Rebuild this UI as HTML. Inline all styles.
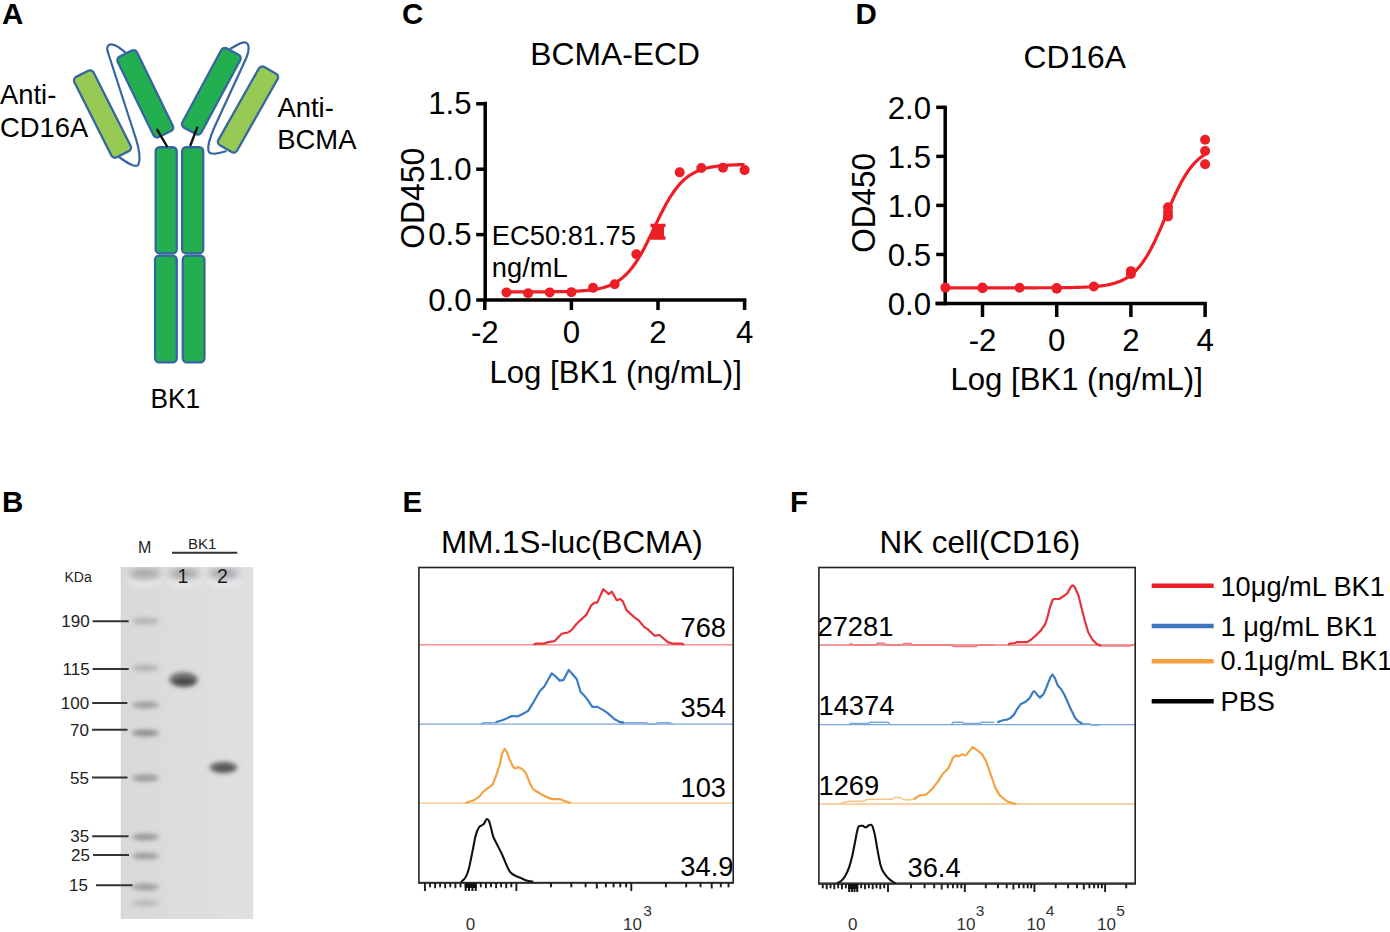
<!DOCTYPE html>
<html><head><meta charset="utf-8"><title>Figure</title>
<style>
html,body{margin:0;padding:0;background:#fff;width:1390px;height:932px;overflow:hidden}
svg{display:block}
text{font-family:"Liberation Sans", sans-serif}
</style></head><body>
<svg width="1390" height="932" viewBox="0 0 1390 932">
<rect width="1390" height="932" fill="#fff"/>
<text x="2" y="24" font-size="29.5" text-anchor="start" font-weight="bold" fill="#000" >A</text>
<path d="M129,56 C122,49 114,43.5 110,44.5 C106,46 107,50 108.5,54 L136,139 C138.5,147 141,158 138.5,164.5 C136,169 126,162 119,157" fill="none" stroke="#3566a2" stroke-width="2.2"/>
<path d="M230,49 C236,45.5 242,41.5 245.5,42.5 C250,44 249,51 246.5,57.5 L214.5,127 C211,135 207,145 208.5,151 C210,156 220,153 226.5,151" fill="none" stroke="#3566a2" stroke-width="2.2"/>
<rect x="91.75" y="69.0" width="21.5" height="90" rx="4" ry="4" transform="rotate(-26.8 102.5 114)" fill="#97ca54" stroke="#3566a2" stroke-width="2.3"/>
<rect x="134.55" y="49.05" width="21.5" height="89.5" rx="4" ry="4" transform="rotate(-26 145.3 93.8)" fill="#23af50" stroke="#3566a2" stroke-width="2.3"/>
<rect x="200.55" y="46.2" width="21.5" height="90" rx="4" ry="4" transform="rotate(28.3 211.3 91.2)" fill="#23af50" stroke="#3566a2" stroke-width="2.3"/>
<rect x="237.25" y="64.5" width="21.5" height="90" rx="4" ry="4" transform="rotate(29.5 248 109.5)" fill="#97ca54" stroke="#3566a2" stroke-width="2.3"/>
<rect x="155.65" y="147.25" width="21.1" height="106.2" rx="4" fill="#23af50" stroke="#3566a2" stroke-width="2.3"/>
<rect x="155.05" y="255.65" width="21.7" height="106.7" rx="4" fill="#23af50" stroke="#3566a2" stroke-width="2.3"/>
<rect x="182.15" y="147.25" width="21.1" height="106.2" rx="4" fill="#23af50" stroke="#3566a2" stroke-width="2.3"/>
<rect x="182.75" y="255.65" width="21.7" height="106.7" rx="4" fill="#23af50" stroke="#3566a2" stroke-width="2.3"/>
<line x1="156.7" y1="128.8" x2="167.4" y2="147" stroke="#111" stroke-width="2.4"/>
<line x1="197.6" y1="126.6" x2="190.1" y2="146" stroke="#111" stroke-width="2.4"/>
<text x="0" y="103.5" font-size="27.4" text-anchor="start" font-weight="normal" fill="#000" >Anti-</text>
<text x="0" y="137" font-size="27.4" text-anchor="start" font-weight="normal" fill="#000" >CD16A</text>
<text x="277.5" y="116.5" font-size="27.4" text-anchor="start" font-weight="normal" fill="#000" >Anti-</text>
<text x="277.3" y="148.8" font-size="27.4" text-anchor="start" font-weight="normal" fill="#000" >BCMA</text>
<text transform="translate(150.5 408) scale(1 1.06)" font-size="26.3" text-anchor="start" font-weight="normal" fill="#000" >BK1</text>
<text x="2" y="512" font-size="29.5" text-anchor="start" font-weight="bold" fill="#000" >B</text>
<defs><linearGradient id="gelg" x1="0" x2="1" y1="0" y2="0"><stop offset="0" stop-color="#d6d6d7"/><stop offset="0.04" stop-color="#d9d9db"/><stop offset="0.4" stop-color="#dcdcde"/><stop offset="1" stop-color="#e0e0e2"/></linearGradient><filter id="blur2" x="-50%" y="-50%" width="200%" height="200%"><feGaussianBlur stdDeviation="2"/></filter><filter id="blur3" x="-50%" y="-50%" width="200%" height="200%"><feGaussianBlur stdDeviation="3"/></filter><clipPath id="gelclip"><rect x="120.5" y="567" width="133" height="352"/></clipPath></defs>
<g clip-path="url(#gelclip)">
<rect x="120.5" y="567" width="133" height="352" fill="url(#gelg)"/>
<g filter="url(#blur3)">
<ellipse cx="145" cy="573.5" rx="15" ry="5" fill="#a8a8aa"/>
<ellipse cx="184" cy="573.5" rx="15" ry="5" fill="#a8a8aa"/>
<ellipse cx="224" cy="573.5" rx="15" ry="5" fill="#a8a8aa"/>
</g>
<g filter="url(#blur2)">
<path d="M128,580 Q145,588 162,580 L162,582.5 Q145,590.5 128,582.5 Z" fill="#f0f0f0"/>
<path d="M167,580 Q184,588 201,580 L201,582.5 Q184,590.5 167,582.5 Z" fill="#f0f0f0"/>
<path d="M207,580 Q224,588 241,580 L241,582.5 Q224,590.5 207,582.5 Z" fill="#f0f0f0"/>
</g>
<g filter="url(#blur2)">
<ellipse cx="145.5" cy="621" rx="13.5" ry="3.5" fill="#707070" opacity="0.35"/>
<ellipse cx="145.5" cy="668" rx="13.5" ry="3.5" fill="#707070" opacity="0.35"/>
<ellipse cx="145.5" cy="705" rx="13.5" ry="3.5" fill="#707070" opacity="0.55"/>
<ellipse cx="145.5" cy="733" rx="13.5" ry="3.5" fill="#707070" opacity="0.7"/>
<ellipse cx="145.5" cy="778" rx="13.5" ry="3.5" fill="#707070" opacity="0.6"/>
<ellipse cx="145.5" cy="837" rx="13.5" ry="3.5" fill="#707070" opacity="0.6"/>
<ellipse cx="145.5" cy="856" rx="13.5" ry="3.5" fill="#707070" opacity="0.55"/>
<ellipse cx="145.5" cy="887" rx="13.5" ry="3.5" fill="#707070" opacity="0.55"/>
<ellipse cx="145.5" cy="903" rx="13.5" ry="3.5" fill="#707070" opacity="0.3"/>
</g>
<g filter="url(#blur2)">
<ellipse cx="183.5" cy="679.5" rx="14.5" ry="7.5" fill="#777"/>
<ellipse cx="184.5" cy="682" rx="11.5" ry="4.5" fill="#4c4c4c"/>
<ellipse cx="223.5" cy="767.5" rx="14" ry="6" fill="#747474"/>
<ellipse cx="224" cy="768" rx="10.5" ry="3.5" fill="#555"/>
</g>
</g>
<text x="138" y="553.2" font-size="16" text-anchor="start" font-weight="normal" fill="#222" >M</text>
<text x="188" y="548.5" font-size="15" text-anchor="start" font-weight="normal" fill="#222" >BK1</text>
<line x1="172" y1="552.7" x2="237.3" y2="552.7" stroke="#333" stroke-width="2"/>
<text x="64.5" y="582" font-size="14" text-anchor="start" font-weight="normal" fill="#222" >KDa</text>
<text x="177.5" y="583" font-size="19.5" text-anchor="start" font-weight="normal" fill="#1a1a1a" >1</text>
<text x="217" y="583" font-size="19.5" text-anchor="start" font-weight="normal" fill="#1a1a1a" >2</text>
<text x="89.6" y="627.2" font-size="17" text-anchor="end" font-weight="normal" fill="#222" >190</text>
<line x1="92.6" y1="621.2" x2="128.7" y2="621.2" stroke="#333" stroke-width="2"/>
<text x="89.6" y="675" font-size="17" text-anchor="end" font-weight="normal" fill="#222" >115</text>
<line x1="92.6" y1="669" x2="128.7" y2="669" stroke="#333" stroke-width="2"/>
<text x="89.2" y="709" font-size="17" text-anchor="end" font-weight="normal" fill="#222" >100</text>
<line x1="92.2" y1="703" x2="127.3" y2="703" stroke="#333" stroke-width="2"/>
<text x="89" y="735.7" font-size="17" text-anchor="end" font-weight="normal" fill="#222" >70</text>
<line x1="92" y1="729.7" x2="127.5" y2="729.7" stroke="#333" stroke-width="2"/>
<text x="89" y="783.5" font-size="17" text-anchor="end" font-weight="normal" fill="#222" >55</text>
<line x1="92" y1="777.5" x2="127.5" y2="777.5" stroke="#333" stroke-width="2"/>
<text x="89.2" y="842.2" font-size="17" text-anchor="end" font-weight="normal" fill="#222" >35</text>
<line x1="92.2" y1="836.2" x2="128.6" y2="836.2" stroke="#333" stroke-width="2"/>
<text x="90" y="861" font-size="17" text-anchor="end" font-weight="normal" fill="#222" >25</text>
<line x1="93" y1="855" x2="129" y2="855" stroke="#333" stroke-width="2"/>
<text x="88" y="891.3" font-size="17" text-anchor="end" font-weight="normal" fill="#222" >15</text>
<line x1="96" y1="885.3" x2="132.5" y2="885.3" stroke="#333" stroke-width="2"/>
<text x="402" y="24" font-size="29.5" text-anchor="start" font-weight="bold" fill="#000" >C</text>
<text x="530.3" y="65" font-size="31.8" text-anchor="start" font-weight="normal" fill="#000" >BCMA-ECD</text>
<line x1="485.2" y1="101.75" x2="485.2" y2="301.75" stroke="#000" stroke-width="3.5"/>
<line x1="484" y1="300" x2="746.3499999999999" y2="300" stroke="#000" stroke-width="3.5"/>
<line x1="476.2" y1="300.0" x2="485.2" y2="300.0" stroke="#000" stroke-width="3.5"/>
<text x="471.5" y="310.6" font-size="31.2" text-anchor="end" font-weight="normal" fill="#000" >0.0</text>
<line x1="476.2" y1="234.6" x2="485.2" y2="234.6" stroke="#000" stroke-width="3.5"/>
<text x="471.5" y="245.2" font-size="31.2" text-anchor="end" font-weight="normal" fill="#000" >0.5</text>
<line x1="476.2" y1="169.2" x2="485.2" y2="169.2" stroke="#000" stroke-width="3.5"/>
<text x="471.5" y="179.79999999999998" font-size="31.2" text-anchor="end" font-weight="normal" fill="#000" >1.0</text>
<line x1="476.2" y1="103.79999999999998" x2="485.2" y2="103.79999999999998" stroke="#000" stroke-width="3.5"/>
<text x="471.5" y="114.39999999999998" font-size="31.2" text-anchor="end" font-weight="normal" fill="#000" >1.5</text>
<line x1="484.79999999999995" y1="300" x2="484.79999999999995" y2="310" stroke="#000" stroke-width="3.5"/>
<text x="484.79999999999995" y="343.2" font-size="31.2" text-anchor="middle" font-weight="normal" fill="#000" >-2</text>
<line x1="571.4" y1="300" x2="571.4" y2="310" stroke="#000" stroke-width="3.5"/>
<text x="571.4" y="343.2" font-size="31.2" text-anchor="middle" font-weight="normal" fill="#000" >0</text>
<line x1="658.0" y1="300" x2="658.0" y2="310" stroke="#000" stroke-width="3.5"/>
<text x="658.0" y="343.2" font-size="31.2" text-anchor="middle" font-weight="normal" fill="#000" >2</text>
<line x1="744.5999999999999" y1="300" x2="744.5999999999999" y2="310" stroke="#000" stroke-width="3.5"/>
<text x="744.5999999999999" y="343.2" font-size="31.2" text-anchor="middle" font-weight="normal" fill="#000" >4</text>
<text x="489.5" y="383.1" font-size="31.1" text-anchor="start" font-weight="normal" fill="#000" >Log [BK1 (ng/mL)]</text>
<text transform="translate(424.0 198.2) rotate(-90) scale(1 1.07)" x="0" y="0" font-size="31.9" text-anchor="middle">OD450</text>
<polyline points="506.45,291.88 508.43,291.88 510.42,291.88 512.40,291.88 514.39,291.88 516.37,291.88 518.36,291.87 520.34,291.87 522.33,291.87 524.31,291.87 526.30,291.86 528.28,291.86 530.26,291.85 532.25,291.85 534.23,291.84 536.22,291.84 538.20,291.83 540.19,291.82 542.17,291.81 544.16,291.80 546.14,291.79 548.13,291.77 550.11,291.76 552.10,291.74 554.08,291.72 556.06,291.69 558.05,291.66 560.03,291.63 562.02,291.60 564.00,291.56 565.99,291.51 567.97,291.46 569.96,291.40 571.94,291.33 573.93,291.25 575.91,291.16 577.89,291.06 579.88,290.94 581.86,290.81 583.85,290.66 585.83,290.49 587.82,290.30 589.80,290.08 591.79,289.83 593.77,289.54 595.76,289.22 597.74,288.86 599.73,288.45 601.71,287.98 603.69,287.45 605.68,286.86 607.66,286.18 609.65,285.43 611.63,284.58 613.62,283.62 615.60,282.55 617.59,281.35 619.57,280.01 621.56,278.53 623.54,276.88 625.52,275.05 627.51,273.05 629.49,270.85 631.48,268.45 633.46,265.84 635.45,263.02 637.43,259.99 639.42,256.76 641.40,253.33 643.39,249.72 645.37,245.95 647.36,242.03 649.34,238.00 651.32,233.89 653.31,229.73 655.29,225.56 657.28,221.40 659.26,217.30 661.25,213.30 663.23,209.41 665.22,205.66 667.20,202.09 669.19,198.70 671.17,195.51 673.15,192.52 675.14,189.74 677.12,187.18 679.11,184.82 681.09,182.66 683.08,180.69 685.06,178.90 687.05,177.28 689.03,175.83 691.02,174.52 693.00,173.35 694.99,172.30 696.97,171.37 698.95,170.53 700.94,169.79 702.92,169.14 704.91,168.56 706.89,168.04 708.88,167.59 710.86,167.18 712.85,166.83 714.83,166.52 716.82,166.24 718.80,166.00 720.78,165.78 722.77,165.59 724.75,165.43 726.74,165.28 728.72,165.15 730.71,165.04 732.69,164.94 734.68,164.86 736.66,164.78 738.65,164.71 740.63,164.65 742.62,164.60 744.60,164.56" fill="none" stroke="#ec1f27" stroke-width="3.2" stroke-linejoin="round"/>
<circle cx="506.45" cy="292.41" r="5" fill="#ec1f27"/>
<circle cx="528.10" cy="293.33" r="5" fill="#ec1f27"/>
<circle cx="549.75" cy="292.41" r="5" fill="#ec1f27"/>
<circle cx="571.40" cy="292.15" r="5" fill="#ec1f27"/>
<circle cx="593.05" cy="287.84" r="5" fill="#ec1f27"/>
<circle cx="614.70" cy="284.17" r="5" fill="#ec1f27"/>
<circle cx="636.35" cy="254.22" r="5" fill="#ec1f27"/>
<circle cx="658.00" cy="231.98" r="5" fill="#ec1f27"/>
<circle cx="679.65" cy="172.34" r="5" fill="#ec1f27"/>
<circle cx="701.30" cy="168.02" r="5" fill="#ec1f27"/>
<circle cx="722.95" cy="167.63" r="5" fill="#ec1f27"/>
<circle cx="744.60" cy="170.12" r="5" fill="#ec1f27"/>
<path d="M650.5,225.5 H665.5 M650.5,238 H665.5 M658.0,225.5 V238" stroke="#ec1f27" stroke-width="3.5" fill="none"/>
<rect x="652.0" y="225.5" width="12" height="12.5" fill="#ec1f27"/>
<text x="491.8" y="245.3" font-size="27.3" text-anchor="start" font-weight="normal" fill="#000" >EC50:81.75</text>
<text x="491.8" y="276.6" font-size="27.3" text-anchor="start" font-weight="normal" fill="#000" >ng/mL</text>
<text x="855.5" y="24" font-size="29.5" text-anchor="start" font-weight="bold" fill="#000" >D</text>
<text x="1023.5" y="68.3" font-size="31.8" text-anchor="start" font-weight="normal" fill="#000" >CD16A</text>
<line x1="945.2" y1="105.75" x2="945.2" y2="305.25" stroke="#000" stroke-width="3.5"/>
<line x1="935.4" y1="303.5" x2="1206.8500000000001" y2="303.5" stroke="#000" stroke-width="3.5"/>
<line x1="936.2" y1="303.5" x2="945.2" y2="303.5" stroke="#000" stroke-width="3.5"/>
<text x="931.0" y="315.3" font-size="31.2" text-anchor="end" font-weight="normal" fill="#000" >0.0</text>
<line x1="936.2" y1="254.45" x2="945.2" y2="254.45" stroke="#000" stroke-width="3.5"/>
<text x="931.0" y="266.25" font-size="31.2" text-anchor="end" font-weight="normal" fill="#000" >0.5</text>
<line x1="936.2" y1="205.4" x2="945.2" y2="205.4" stroke="#000" stroke-width="3.5"/>
<text x="931.0" y="217.20000000000002" font-size="31.2" text-anchor="end" font-weight="normal" fill="#000" >1.0</text>
<line x1="936.2" y1="156.35000000000002" x2="945.2" y2="156.35000000000002" stroke="#000" stroke-width="3.5"/>
<text x="931.0" y="168.15000000000003" font-size="31.2" text-anchor="end" font-weight="normal" fill="#000" >1.5</text>
<line x1="936.2" y1="107.30000000000001" x2="945.2" y2="107.30000000000001" stroke="#000" stroke-width="3.5"/>
<text x="931.0" y="119.10000000000001" font-size="31.2" text-anchor="end" font-weight="normal" fill="#000" >2.0</text>
<line x1="982.5" y1="303.5" x2="982.5" y2="317.0" stroke="#000" stroke-width="3.5"/>
<text x="982.5" y="351" font-size="31.2" text-anchor="middle" font-weight="normal" fill="#000" >-2</text>
<line x1="1056.7" y1="303.5" x2="1056.7" y2="317.0" stroke="#000" stroke-width="3.5"/>
<text x="1056.7" y="351" font-size="31.2" text-anchor="middle" font-weight="normal" fill="#000" >0</text>
<line x1="1130.9" y1="303.5" x2="1130.9" y2="317.0" stroke="#000" stroke-width="3.5"/>
<text x="1130.9" y="351" font-size="31.2" text-anchor="middle" font-weight="normal" fill="#000" >2</text>
<line x1="1205.1000000000001" y1="303.5" x2="1205.1000000000001" y2="317.0" stroke="#000" stroke-width="3.5"/>
<text x="1205.1000000000001" y="351" font-size="31.2" text-anchor="middle" font-weight="normal" fill="#000" >4</text>
<text x="950.5" y="390.4" font-size="31.1" text-anchor="start" font-weight="normal" fill="#000" >Log [BK1 (ng/mL)]</text>
<text transform="translate(875.2 202.8) rotate(-90) scale(1 1.07)" x="0" y="0" font-size="31.5" text-anchor="middle">OD450</text>
<polyline points="945.40,287.80 947.56,287.80 949.73,287.80 951.89,287.80 954.06,287.80 956.22,287.80 958.38,287.80 960.55,287.80 962.71,287.80 964.88,287.80 967.04,287.80 969.21,287.80 971.37,287.80 973.53,287.80 975.70,287.80 977.86,287.80 980.03,287.80 982.19,287.80 984.36,287.80 986.52,287.80 988.68,287.80 990.85,287.80 993.01,287.80 995.18,287.80 997.34,287.80 999.50,287.80 1001.67,287.80 1003.83,287.80 1006.00,287.80 1008.16,287.80 1010.33,287.80 1012.49,287.80 1014.65,287.80 1016.82,287.80 1018.98,287.80 1021.15,287.79 1023.31,287.79 1025.47,287.79 1027.64,287.79 1029.80,287.79 1031.97,287.78 1034.13,287.78 1036.30,287.78 1038.46,287.77 1040.62,287.77 1042.79,287.76 1044.95,287.76 1047.12,287.75 1049.28,287.74 1051.44,287.73 1053.61,287.72 1055.77,287.71 1057.94,287.69 1060.10,287.68 1062.27,287.66 1064.43,287.63 1066.59,287.61 1068.76,287.58 1070.92,287.54 1073.09,287.50 1075.25,287.45 1077.41,287.40 1079.58,287.34 1081.74,287.27 1083.91,287.18 1086.07,287.09 1088.24,286.98 1090.40,286.85 1092.56,286.70 1094.73,286.54 1096.89,286.34 1099.06,286.12 1101.22,285.86 1103.38,285.57 1105.55,285.23 1107.71,284.84 1109.88,284.39 1112.04,283.88 1114.20,283.29 1116.37,282.61 1118.53,281.85 1120.70,280.97 1122.86,279.97 1125.03,278.84 1127.19,277.55 1129.35,276.09 1131.52,274.45 1133.68,272.61 1135.85,270.54 1138.01,268.24 1140.17,265.68 1142.34,262.86 1144.50,259.76 1146.67,256.37 1148.83,252.70 1151.00,248.76 1153.16,244.55 1155.32,240.09 1157.49,235.41 1159.65,230.55 1161.82,225.55 1163.98,220.45 1166.14,215.31 1168.31,210.18 1170.47,205.11 1172.64,200.15 1174.80,195.35 1176.97,190.74 1179.13,186.36 1181.29,182.24 1183.46,178.39 1185.62,174.82 1187.79,171.53 1189.95,168.53 1192.12,165.80 1194.28,163.33 1196.44,161.11 1198.61,159.12 1200.77,157.35 1202.94,155.77 1205.10,154.37" fill="none" stroke="#ec1f27" stroke-width="3.2" stroke-linejoin="round"/>
<circle cx="945.40" cy="287.61" r="5" fill="#ec1f27"/>
<circle cx="982.50" cy="287.61" r="5" fill="#ec1f27"/>
<circle cx="982.50" cy="288.29" r="5" fill="#ec1f27"/>
<circle cx="1019.60" cy="287.80" r="5" fill="#ec1f27"/>
<circle cx="1056.70" cy="288.00" r="5" fill="#ec1f27"/>
<circle cx="1056.70" cy="288.79" r="5" fill="#ec1f27"/>
<circle cx="1093.80" cy="286.43" r="5" fill="#ec1f27"/>
<circle cx="1130.90" cy="274.07" r="5" fill="#ec1f27"/>
<circle cx="1130.90" cy="271.13" r="5" fill="#ec1f27"/>
<circle cx="1168.00" cy="207.36" r="5" fill="#ec1f27"/>
<circle cx="1168.00" cy="212.27" r="5" fill="#ec1f27"/>
<circle cx="1168.00" cy="216.39" r="5" fill="#ec1f27"/>
<circle cx="1205.10" cy="139.67" r="5" fill="#ec1f27"/>
<circle cx="1205.10" cy="151.05" r="5" fill="#ec1f27"/>
<circle cx="1205.10" cy="164.20" r="5" fill="#ec1f27"/>
<line x1="945.2" y1="303.5" x2="945.2" y2="303.5" />
<text x="402.5" y="512" font-size="29.5" text-anchor="start" font-weight="bold" fill="#000" >E</text>
<text x="441" y="553.2" font-size="31.4" text-anchor="start" font-weight="normal" fill="#000" >MM.1S-luc(BCMA)</text>
<line x1="418.9" y1="644.8" x2="733.2" y2="644.8" stroke="#f07a80" stroke-width="1.3"/>
<polyline points="533.6,644.8 536.0,643.6 544.6,643.6 547.0,642.4 554.4,641.2 561.7,633.8 564.1,633.2 567.8,632.6 571.5,630.1 576.4,624.0 586.2,614.9 591.0,605.7 594.7,602.6 597.2,602.6 603.3,589.2 608.8,594.1 611.8,591.6 616.7,600.2 620.4,599.0 622.8,601.4 626.5,610.0 630.2,613.6 635.1,617.9 638.7,620.4 644.3,627.1 647.3,628.9 654.6,635.7 659.5,635.0 668.1,642.4 673.0,643.6 681.6,643.6 684.0,644.8" fill="none" stroke="#e5333d" stroke-width="2.2" stroke-linejoin="round"/>
<line x1="418.9" y1="724.2" x2="733.2" y2="724.2" stroke="#7aa6db" stroke-width="1.3"/>
<polyline points="480.9,724.2 483.8,722.7 495.6,722.7" fill="none" stroke="#7aa6db" stroke-width="1.5" stroke-linejoin="round"/>
<polyline points="624.0,722.7 646.1,722.7 649.0,724.2 654.9,724.2 657.9,722.7 669.7,722.7 672.6,724.2" fill="none" stroke="#7aa6db" stroke-width="1.5" stroke-linejoin="round"/>
<polyline points="495.6,722.7 497.1,721.7 501.5,720.5 506.0,718.7 511.9,716.0 517.8,716.3 522.2,714.3 528.1,710.9 534.0,701.3 539.9,691.0 544.3,686.5 551.7,673.3 555.4,676.2 559.8,680.6 563.5,679.9 568.7,670.0 572.3,674.0 576.8,679.2 580.5,691.7 584.1,695.4 587.1,699.1 592.3,706.9 597.4,706.9 603.3,710.1 607.7,713.1 614.4,719.0 619.5,721.9 624.0,722.7" fill="none" stroke="#3b7bc3" stroke-width="2.2" stroke-linejoin="round"/>
<line x1="418.9" y1="803.1" x2="733.2" y2="803.1" stroke="#f7c48a" stroke-width="1.3"/>
<polyline points="465.3,803.1 469.0,801.7 473.7,800.3 479.3,796.6 483.1,791.9 485.9,789.6 492.4,784.9 496.2,775.5 499.9,764.3 502.2,753.1 504.6,748.9 506.9,752.2 509.3,758.7 513.0,766.7 514.9,768.5 518.6,767.1 523.3,769.9 526.1,773.7 529.8,783.0 532.6,788.6 536.4,791.3 541.1,794.3 546.7,797.1 552.3,799.1 559.8,799.1 565.4,801.3 571.0,803.1" fill="none" stroke="#f2a344" stroke-width="2.2" stroke-linejoin="round"/>
<line x1="418.9" y1="882.5" x2="733.2" y2="882.5" stroke="#555" stroke-width="1.3"/>
<path d="M461.0,882.1 C461.7,881.4 464.0,879.9 465.3,877.8 C466.6,875.7 467.6,873.4 468.7,869.3 C469.8,865.1 471.0,858.5 472.2,852.9 C473.4,847.3 474.5,840.1 475.6,835.8 C476.7,831.5 477.9,829.0 479.0,827.2 C480.1,825.4 481.6,825.6 482.5,825.0 C483.4,824.4 483.5,824.3 484.2,823.3 C484.9,822.3 485.9,819.2 486.8,819.0 C487.7,818.8 488.5,819.9 489.4,822.0 C490.2,824.1 491.2,828.9 491.9,831.5 C492.6,834.1 492.6,835.1 493.6,837.5 C494.6,839.9 496.5,843.2 497.9,846.1 C499.3,849.0 500.8,851.6 502.2,854.7 C503.6,857.9 505.2,862.1 506.5,865.0 C507.8,867.9 508.6,870.0 510.0,871.8 C511.4,873.6 513.4,874.7 515.1,875.7 C516.8,876.7 518.4,877.0 520.3,877.8 C522.2,878.6 524.1,879.7 526.3,880.4 C528.4,881.1 532.1,881.6 533.2,881.8" fill="none" stroke="#111" stroke-width="2.1" stroke-linejoin="round"/>
<rect x="418.9" y="567.5" width="314.30000000000007" height="315.5" fill="none" stroke="#222" stroke-width="1.6"/>
<text x="726" y="637.2" font-size="27.3" text-anchor="end" font-weight="normal" fill="#000" >768</text>
<text x="726" y="716.9" font-size="27.3" text-anchor="end" font-weight="normal" fill="#000" >354</text>
<text x="726" y="796.5" font-size="27.3" text-anchor="end" font-weight="normal" fill="#000" >103</text>
<text x="733.5" y="876.2" font-size="27.3" text-anchor="end" font-weight="normal" fill="#000" >34.9</text>
<line x1="424.9" y1="883" x2="424.9" y2="891.0" stroke="#1a1a1a" stroke-width="1.9"/>
<line x1="516.4" y1="883" x2="516.4" y2="891.0" stroke="#1a1a1a" stroke-width="1.9"/>
<line x1="631.3" y1="883" x2="631.3" y2="891.0" stroke="#1a1a1a" stroke-width="1.9"/>
<line x1="430.0" y1="883" x2="430.0" y2="887.3" stroke="#1a1a1a" stroke-width="1.9"/>
<line x1="435.1" y1="883" x2="435.1" y2="888.2" stroke="#1a1a1a" stroke-width="1.9"/>
<line x1="440.1" y1="883" x2="440.1" y2="887.3" stroke="#1a1a1a" stroke-width="1.9"/>
<line x1="445.2" y1="883" x2="445.2" y2="888.2" stroke="#1a1a1a" stroke-width="1.9"/>
<line x1="450.3" y1="883" x2="450.3" y2="887.3" stroke="#1a1a1a" stroke-width="1.9"/>
<line x1="455.4" y1="883" x2="455.4" y2="888.2" stroke="#1a1a1a" stroke-width="1.9"/>
<line x1="460.5" y1="883" x2="460.5" y2="887.3" stroke="#1a1a1a" stroke-width="1.9"/>
<line x1="480.8" y1="883" x2="480.8" y2="887.3" stroke="#1a1a1a" stroke-width="1.9"/>
<line x1="485.9" y1="883" x2="485.9" y2="888.2" stroke="#1a1a1a" stroke-width="1.9"/>
<line x1="491.0" y1="883" x2="491.0" y2="887.3" stroke="#1a1a1a" stroke-width="1.9"/>
<line x1="496.1" y1="883" x2="496.1" y2="888.2" stroke="#1a1a1a" stroke-width="1.9"/>
<line x1="501.1" y1="883" x2="501.1" y2="887.3" stroke="#1a1a1a" stroke-width="1.9"/>
<line x1="506.2" y1="883" x2="506.2" y2="888.2" stroke="#1a1a1a" stroke-width="1.9"/>
<line x1="511.3" y1="883" x2="511.3" y2="887.3" stroke="#1a1a1a" stroke-width="1.9"/>
<line x1="551.0" y1="883" x2="551.0" y2="887.3" stroke="#1a1a1a" stroke-width="1.9"/>
<line x1="571.3" y1="883" x2="571.3" y2="887.3" stroke="#1a1a1a" stroke-width="1.9"/>
<line x1="585.6" y1="883" x2="585.6" y2="887.3" stroke="#1a1a1a" stroke-width="1.9"/>
<line x1="596.8" y1="883" x2="596.8" y2="888.5" stroke="#1a1a1a" stroke-width="1.9"/>
<line x1="605.9" y1="883" x2="605.9" y2="887.3" stroke="#1a1a1a" stroke-width="1.9"/>
<line x1="613.6" y1="883" x2="613.6" y2="887.3" stroke="#1a1a1a" stroke-width="1.9"/>
<line x1="620.3" y1="883" x2="620.3" y2="887.3" stroke="#1a1a1a" stroke-width="1.9"/>
<line x1="626.1" y1="883" x2="626.1" y2="887.3" stroke="#1a1a1a" stroke-width="1.9"/>
<line x1="665.9" y1="883" x2="665.9" y2="887.3" stroke="#1a1a1a" stroke-width="1.9"/>
<line x1="686.2" y1="883" x2="686.2" y2="887.3" stroke="#1a1a1a" stroke-width="1.9"/>
<line x1="700.5" y1="883" x2="700.5" y2="887.3" stroke="#1a1a1a" stroke-width="1.9"/>
<line x1="711.7" y1="883" x2="711.7" y2="888.5" stroke="#1a1a1a" stroke-width="1.9"/>
<line x1="720.8" y1="883" x2="720.8" y2="887.3" stroke="#1a1a1a" stroke-width="1.9"/>
<line x1="728.5" y1="883" x2="728.5" y2="887.3" stroke="#1a1a1a" stroke-width="1.9"/>
<rect x="464.7" y="883" width="12.0" height="5" fill="#111"/>
<line x1="465.7" y1="883" x2="465.7" y2="891" stroke="#111" stroke-width="2"/>
<line x1="469.0" y1="883" x2="469.0" y2="891" stroke="#111" stroke-width="2"/>
<line x1="472.4" y1="883" x2="472.4" y2="891" stroke="#111" stroke-width="2"/>
<line x1="475.7" y1="883" x2="475.7" y2="891" stroke="#111" stroke-width="2"/>
<text x="470.5" y="929.5" font-size="17" text-anchor="middle" font-weight="normal" fill="#333" >0</text>
<text x="632.5" y="929.5" font-size="17" text-anchor="middle" font-weight="normal" fill="#333" >10</text>
<text x="643.2" y="915.5" font-size="15.5" text-anchor="start" font-weight="normal" fill="#333" >3</text>
<text x="790" y="512" font-size="29.5" text-anchor="start" font-weight="bold" fill="#000" >F</text>
<text x="879.5" y="553.2" font-size="31.4" text-anchor="start" font-weight="normal" fill="#000" >NK cell(CD16)</text>
<line x1="818.9" y1="645" x2="1135.2" y2="645" stroke="#f07a80" stroke-width="1.3"/>
<polyline points="849.0,645.0 850.7,643.6 854.3,645.0 875.5,645.0 877.3,643.2 884.4,643.2 886.1,645.0 902.1,645.0 903.8,643.6 910.9,643.6 912.7,645.0 951.6,645.0 953.4,646.4 976.4,646.4 978.2,645.0 994.1,645.0" fill="none" stroke="#f07a80" stroke-width="1.5" stroke-linejoin="round"/>
<polyline points="1101.1,646.0 1130.3,646.0 1132.4,644.9 1134.6,644.6" fill="none" stroke="#f07a80" stroke-width="1.5" stroke-linejoin="round"/>
<polyline points="1008.3,644.6 1010.5,643.5 1014.8,643.0 1017.0,642.1 1027.2,642.1 1031.0,639.7 1035.3,636.0 1040.7,630.6 1045.0,624.6 1047.2,618.2 1049.9,607.4 1052.6,599.8 1054.7,599.0 1059.1,599.0 1064.5,595.5 1067.7,592.8 1070.4,587.4 1072.6,585.3 1074.7,586.9 1078.5,595.5 1081.7,608.5 1085.0,621.4 1088.2,632.2 1092.5,639.7 1096.8,644.1 1101.1,646.0" fill="none" stroke="#e5333d" stroke-width="2.2" stroke-linejoin="round"/>
<line x1="818.9" y1="724.7" x2="1135.2" y2="724.7" stroke="#7aa6db" stroke-width="1.3"/>
<polyline points="849.0,724.7 850.7,723.6 868.4,723.6 870.2,722.2 887.9,722.2 889.7,723.6" fill="none" stroke="#7aa6db" stroke-width="1.5" stroke-linejoin="round"/>
<polyline points="951.6,723.6 953.4,722.2 962.3,722.2 964.0,723.6 980.0,723.6 981.7,722.2 994.1,722.2" fill="none" stroke="#7aa6db" stroke-width="1.5" stroke-linejoin="round"/>
<polyline points="1082.6,723.7 1089.2,723.7 1091.7,724.9 1100.0,724.9" fill="none" stroke="#7aa6db" stroke-width="1.5" stroke-linejoin="round"/>
<polyline points="997.4,722.5 999.9,721.2 1004.0,720.0 1007.3,719.6 1010.6,717.9 1014.0,714.6 1017.3,708.8 1020.6,704.3 1025.5,701.8 1029.7,698.1 1033.0,691.9 1034.6,691.4 1037.1,694.7 1040.0,697.6 1043.7,693.9 1047.1,685.6 1050.4,677.4 1052.4,674.5 1054.9,678.2 1057.8,685.6 1061.1,689.0 1064.4,694.7 1067.7,702.2 1071.0,709.6 1075.2,717.9 1078.5,721.6 1082.6,723.7" fill="none" stroke="#3b7bc3" stroke-width="2.2" stroke-linejoin="round"/>
<line x1="818.9" y1="804" x2="1135.2" y2="804" stroke="#f7c48a" stroke-width="1.3"/>
<polyline points="839.6,804.2 842.7,802.7 848.7,801.2 862.3,801.2 868.3,799.2 892.5,799.2 895.5,797.2 900.1,797.7 903.1,799.2 909.1,800.0 913.7,799.2" fill="none" stroke="#f7c48a" stroke-width="1.5" stroke-linejoin="round"/>
<polyline points="913.7,799.2 919.7,795.4 925.8,794.7 931.8,789.4 937.8,781.8 942.4,774.3 948.4,768.2 953.0,757.7 956.0,755.4 959.0,756.2 962.0,754.3 965.8,755.4 969.6,750.9 972.6,747.1 977.1,750.1 982.4,754.6 986.2,761.4 990.7,774.3 995.3,787.9 999.8,795.4 1007.3,801.5 1016.4,804.2" fill="none" stroke="#f2a344" stroke-width="2.2" stroke-linejoin="round"/>
<line x1="818.9" y1="883" x2="1135.2" y2="883" stroke="#555" stroke-width="1.3"/>
<path d="M837.1,883.4 C837.8,883.0 839.8,882.2 841.1,881.0 C842.4,879.8 843.8,878.5 845.1,876.2 C846.4,873.9 847.9,870.8 849.1,867.3 C850.3,863.8 851.5,859.2 852.4,855.2 C853.3,851.2 854.0,847.2 854.8,843.2 C855.6,839.2 856.5,833.9 857.2,831.1 C857.9,828.3 857.9,827.2 858.8,826.3 C859.7,825.4 861.7,825.7 862.8,825.9 C863.9,826.1 864.6,827.6 865.6,827.5 C866.6,827.4 867.6,826.0 868.5,825.5 C869.4,825.0 870.2,824.6 870.9,824.7 C871.6,824.8 871.8,824.6 872.5,826.3 C873.2,828.0 874.1,831.4 874.9,835.1 C875.7,838.9 876.4,843.8 877.3,848.8 C878.2,853.8 879.5,861.1 880.5,864.9 C881.5,868.6 881.8,869.1 883.0,871.3 C884.2,873.4 886.3,876.2 887.8,877.8 C889.3,879.4 890.5,880.1 891.8,881.0 C893.1,881.9 895.1,883.0 895.8,883.4" fill="none" stroke="#111" stroke-width="2.1" stroke-linejoin="round"/>
<rect x="818.9" y="567.5" width="316.30000000000007" height="316.5" fill="none" stroke="#222" stroke-width="1.6"/>
<text x="817.5" y="636" font-size="27.3" text-anchor="start" font-weight="normal" fill="#000" >27281</text>
<text x="818.5" y="714.5" font-size="27.3" text-anchor="start" font-weight="normal" fill="#000" >14374</text>
<text x="818.5" y="795" font-size="27.3" text-anchor="start" font-weight="normal" fill="#000" >1269</text>
<text x="907.5" y="877" font-size="27.3" text-anchor="start" font-weight="normal" fill="#000" >36.4</text>
<line x1="888.0" y1="884" x2="888.0" y2="892.0" stroke="#1a1a1a" stroke-width="1.9"/>
<line x1="964.8" y1="884" x2="964.8" y2="892.0" stroke="#1a1a1a" stroke-width="1.9"/>
<line x1="1034.4" y1="884" x2="1034.4" y2="892.0" stroke="#1a1a1a" stroke-width="1.9"/>
<line x1="1105.1" y1="884" x2="1105.1" y2="892.0" stroke="#1a1a1a" stroke-width="1.9"/>
<line x1="822.8" y1="884" x2="822.8" y2="888.3" stroke="#1a1a1a" stroke-width="1.9"/>
<line x1="826.7" y1="884" x2="826.7" y2="889.2" stroke="#1a1a1a" stroke-width="1.9"/>
<line x1="830.5" y1="884" x2="830.5" y2="888.3" stroke="#1a1a1a" stroke-width="1.9"/>
<line x1="834.3" y1="884" x2="834.3" y2="889.2" stroke="#1a1a1a" stroke-width="1.9"/>
<line x1="838.2" y1="884" x2="838.2" y2="888.3" stroke="#1a1a1a" stroke-width="1.9"/>
<line x1="842.0" y1="884" x2="842.0" y2="889.2" stroke="#1a1a1a" stroke-width="1.9"/>
<line x1="845.8" y1="884" x2="845.8" y2="888.3" stroke="#1a1a1a" stroke-width="1.9"/>
<line x1="861.2" y1="884" x2="861.2" y2="888.3" stroke="#1a1a1a" stroke-width="1.9"/>
<line x1="865.0" y1="884" x2="865.0" y2="889.2" stroke="#1a1a1a" stroke-width="1.9"/>
<line x1="868.8" y1="884" x2="868.8" y2="888.3" stroke="#1a1a1a" stroke-width="1.9"/>
<line x1="872.7" y1="884" x2="872.7" y2="889.2" stroke="#1a1a1a" stroke-width="1.9"/>
<line x1="876.5" y1="884" x2="876.5" y2="888.3" stroke="#1a1a1a" stroke-width="1.9"/>
<line x1="880.3" y1="884" x2="880.3" y2="889.2" stroke="#1a1a1a" stroke-width="1.9"/>
<line x1="884.2" y1="884" x2="884.2" y2="888.3" stroke="#1a1a1a" stroke-width="1.9"/>
<line x1="911.1" y1="884" x2="911.1" y2="888.3" stroke="#1a1a1a" stroke-width="1.9"/>
<line x1="924.6" y1="884" x2="924.6" y2="888.3" stroke="#1a1a1a" stroke-width="1.9"/>
<line x1="934.2" y1="884" x2="934.2" y2="888.3" stroke="#1a1a1a" stroke-width="1.9"/>
<line x1="941.7" y1="884" x2="941.7" y2="889.5" stroke="#1a1a1a" stroke-width="1.9"/>
<line x1="947.8" y1="884" x2="947.8" y2="888.3" stroke="#1a1a1a" stroke-width="1.9"/>
<line x1="952.9" y1="884" x2="952.9" y2="888.3" stroke="#1a1a1a" stroke-width="1.9"/>
<line x1="957.4" y1="884" x2="957.4" y2="888.3" stroke="#1a1a1a" stroke-width="1.9"/>
<line x1="961.3" y1="884" x2="961.3" y2="888.3" stroke="#1a1a1a" stroke-width="1.9"/>
<line x1="985.8" y1="884" x2="985.8" y2="888.3" stroke="#1a1a1a" stroke-width="1.9"/>
<line x1="998.0" y1="884" x2="998.0" y2="888.3" stroke="#1a1a1a" stroke-width="1.9"/>
<line x1="1006.7" y1="884" x2="1006.7" y2="888.3" stroke="#1a1a1a" stroke-width="1.9"/>
<line x1="1013.4" y1="884" x2="1013.4" y2="889.5" stroke="#1a1a1a" stroke-width="1.9"/>
<line x1="1019.0" y1="884" x2="1019.0" y2="888.3" stroke="#1a1a1a" stroke-width="1.9"/>
<line x1="1023.6" y1="884" x2="1023.6" y2="888.3" stroke="#1a1a1a" stroke-width="1.9"/>
<line x1="1027.7" y1="884" x2="1027.7" y2="888.3" stroke="#1a1a1a" stroke-width="1.9"/>
<line x1="1031.2" y1="884" x2="1031.2" y2="888.3" stroke="#1a1a1a" stroke-width="1.9"/>
<line x1="1055.7" y1="884" x2="1055.7" y2="888.3" stroke="#1a1a1a" stroke-width="1.9"/>
<line x1="1068.1" y1="884" x2="1068.1" y2="888.3" stroke="#1a1a1a" stroke-width="1.9"/>
<line x1="1077.0" y1="884" x2="1077.0" y2="888.3" stroke="#1a1a1a" stroke-width="1.9"/>
<line x1="1083.8" y1="884" x2="1083.8" y2="889.5" stroke="#1a1a1a" stroke-width="1.9"/>
<line x1="1089.4" y1="884" x2="1089.4" y2="888.3" stroke="#1a1a1a" stroke-width="1.9"/>
<line x1="1094.1" y1="884" x2="1094.1" y2="888.3" stroke="#1a1a1a" stroke-width="1.9"/>
<line x1="1098.2" y1="884" x2="1098.2" y2="888.3" stroke="#1a1a1a" stroke-width="1.9"/>
<line x1="1101.9" y1="884" x2="1101.9" y2="888.3" stroke="#1a1a1a" stroke-width="1.9"/>
<line x1="1126.2" y1="884" x2="1126.2" y2="888.3" stroke="#1a1a1a" stroke-width="1.9"/>
<rect x="848.2" y="884" width="10.0" height="5" fill="#111"/>
<line x1="849.2" y1="884" x2="849.2" y2="892" stroke="#111" stroke-width="2"/>
<line x1="851.9" y1="884" x2="851.9" y2="892" stroke="#111" stroke-width="2"/>
<line x1="854.5" y1="884" x2="854.5" y2="892" stroke="#111" stroke-width="2"/>
<line x1="857.2" y1="884" x2="857.2" y2="892" stroke="#111" stroke-width="2"/>
<text x="852.7" y="929.5" font-size="17" text-anchor="middle" font-weight="normal" fill="#333" >0</text>
<text x="966" y="929.5" font-size="17" text-anchor="middle" font-weight="normal" fill="#333" >10</text>
<text x="975.7" y="915.5" font-size="15.5" text-anchor="start" font-weight="normal" fill="#333" >3</text>
<text x="1036" y="929.5" font-size="17" text-anchor="middle" font-weight="normal" fill="#333" >10</text>
<text x="1045.7" y="915.5" font-size="15.5" text-anchor="start" font-weight="normal" fill="#333" >4</text>
<text x="1106.5" y="929.5" font-size="17" text-anchor="middle" font-weight="normal" fill="#333" >10</text>
<text x="1116.2" y="915.5" font-size="15.5" text-anchor="start" font-weight="normal" fill="#333" >5</text>
<line x1="1151.7" y1="585.8" x2="1213.7" y2="585.8" stroke="#ec1f27" stroke-width="4.5"/>
<text x="1220.5" y="596.1" font-size="27.2" text-anchor="start" font-weight="normal" fill="#000" >10μg/mL BK1</text>
<line x1="1151.7" y1="626.1" x2="1213.7" y2="626.1" stroke="#3e74be" stroke-width="4.5"/>
<text x="1220.5" y="635.6" font-size="27.2" text-anchor="start" font-weight="normal" fill="#000" >1 μg/mL BK1</text>
<line x1="1151.7" y1="661.2" x2="1213.7" y2="661.2" stroke="#f4a040" stroke-width="4.5"/>
<text x="1220.5" y="669.8" font-size="27.2" text-anchor="start" font-weight="normal" fill="#000" >0.1μg/mL BK1</text>
<line x1="1151.7" y1="701.3" x2="1213.7" y2="701.3" stroke="#000" stroke-width="4.5"/>
<text x="1220.5" y="710.6" font-size="27.2" text-anchor="start" font-weight="normal" fill="#000" >PBS</text>
</svg></body></html>
